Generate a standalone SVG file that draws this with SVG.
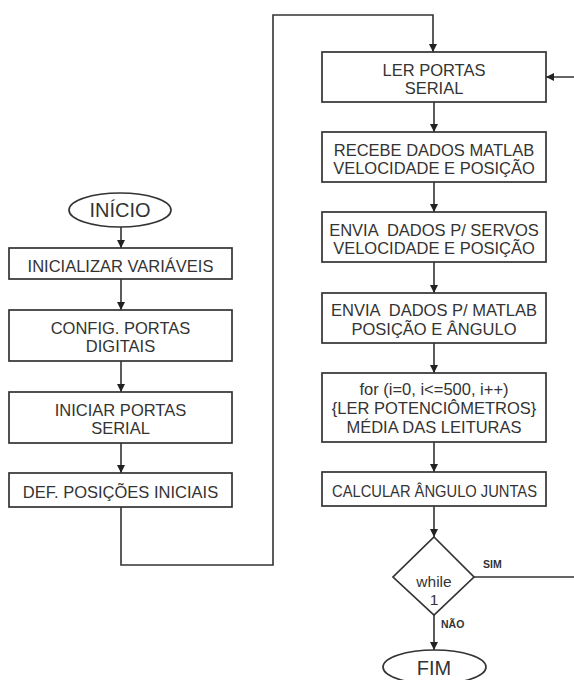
<svg xmlns="http://www.w3.org/2000/svg" width="574" height="680" viewBox="0 0 574 680">
<defs>
<marker id="ah" markerWidth="8" markerHeight="11" refX="8" refY="5.5" orient="auto" markerUnits="userSpaceOnUse">
<path d="M0,1.5 L8,5.5 L0,9.5 Z" fill="#222"/>
</marker>
<style>
.b{fill:#fff;stroke:#333;stroke-width:1.7}
.t{font-family:"Liberation Sans",Arial,sans-serif;font-size:16.5px;fill:#333;text-anchor:middle;white-space:pre}
.big{font-size:20px}
.wh{font-size:15.5px}
.sm{font-family:"Liberation Sans",Arial,sans-serif;font-size:10.5px;font-weight:bold;fill:#333}
.c{fill:none;stroke:#333;stroke-width:1.6}
</style>
</defs>
<rect width="574" height="680" fill="#fff"/>
<g id="connectors">
<path class="c" d="M121,227 V248" marker-end="url(#ah)"/>
<path class="c" d="M121,279 V310" marker-end="url(#ah)"/>
<path class="c" d="M121,361 V392" marker-end="url(#ah)"/>
<path class="c" d="M121,443 V473" marker-end="url(#ah)"/>
<path class="c" d="M121,507 V565 H273 V15 H433 V52" marker-end="url(#ah)"/>
<path class="c" d="M434,102 V132" marker-end="url(#ah)"/>
<path class="c" d="M434,182 V212" marker-end="url(#ah)"/>
<path class="c" d="M434,262 V293" marker-end="url(#ah)"/>
<path class="c" d="M434,343 V373" marker-end="url(#ah)"/>
<path class="c" d="M434,442 V472" marker-end="url(#ah)"/>
<path class="c" d="M434,506 V537" marker-end="url(#ah)"/>
<path class="c" d="M474,577 H578 V77 H546" marker-end="url(#ah)"/>
<path class="c" d="M434,615 V650" marker-end="url(#ah)"/>
<text class="sm" x="483" y="568">SIM</text>
<text class="sm" x="441" y="628">NÃO</text>
</g>
<g id="inicio">
<ellipse class="b" cx="120" cy="210" rx="51" ry="17"/>
<text class="t big" x="120" y="217">INÍCIO</text>
</g>
<g id="inicializar">
<rect class="b" x="9" y="248" width="223" height="31"/>
<text class="t" x="120.5" y="272">INICIALIZAR VARIÁVEIS</text>
</g>
<g id="config">
<rect class="b" x="9" y="310" width="223" height="51"/>
<text class="t" x="120.5" y="334">CONFIG. PORTAS</text>
<text class="t" x="120.5" y="352">DIGITAIS</text>
</g>
<g id="iniciar">
<rect class="b" x="9" y="392" width="223" height="51"/>
<text class="t" x="120.5" y="416">INICIAR PORTAS</text>
<text class="t" x="120.5" y="434">SERIAL</text>
</g>
<g id="def">
<rect class="b" x="9" y="473" width="223" height="34"/>
<text class="t" x="120.5" y="498">DEF. POSIÇÕES INICIAIS</text>
</g>
<g id="ler">
<rect class="b" x="322" y="52" width="224" height="50"/>
<text class="t" x="434" y="76">LER PORTAS</text>
<text class="t" x="434" y="94">SERIAL</text>
</g>
<g id="recebe">
<rect class="b" x="322" y="132" width="224" height="50"/>
<text class="t" x="434" y="156">RECEBE DADOS MATLAB</text>
<text class="t" x="434" y="174">VELOCIDADE E POSIÇÃO</text>
</g>
<g id="envia-servos">
<rect class="b" x="322" y="212" width="224" height="50"/>
<text class="t" x="434" y="236" xml:space="preserve">ENVIA  DADOS P/ SERVOS</text>
<text class="t" x="434" y="254">VELOCIDADE E POSIÇÃO</text>
</g>
<g id="envia-matlab">
<rect class="b" x="322" y="293" width="224" height="50"/>
<text class="t" x="434" y="316" xml:space="preserve">ENVIA  DADOS P/ MATLAB</text>
<text class="t" x="434" y="335">POSIÇÃO E ÂNGULO</text>
</g>
<g id="for">
<rect class="b" x="322" y="373" width="224" height="69"/>
<text class="t" x="434" y="395">for (i=0, i&lt;=500, i++)</text>
<text class="t" x="434" y="414">{LER POTENCIÔMETROS}</text>
<text class="t" x="434" y="433">MÉDIA DAS LEITURAS</text>
</g>
<g id="calcular">
<rect class="b" x="322" y="472" width="224" height="34"/>
<text class="t" x="434.5" y="497" textLength="205" lengthAdjust="spacingAndGlyphs">CALCULAR ÂNGULO JUNTAS</text>
</g>
<g id="while">
<path class="b" d="M434,537 L474,577 L434,615 L393,577 Z"/>
<text class="t wh" x="434" y="587">while</text>
<text class="t wh" x="434" y="605">1</text>
</g>
<g id="fim">
<ellipse class="b" cx="434.5" cy="667" rx="51.5" ry="17"/>
<text class="t big" x="434" y="675">FIM</text>
</g>
</svg>
